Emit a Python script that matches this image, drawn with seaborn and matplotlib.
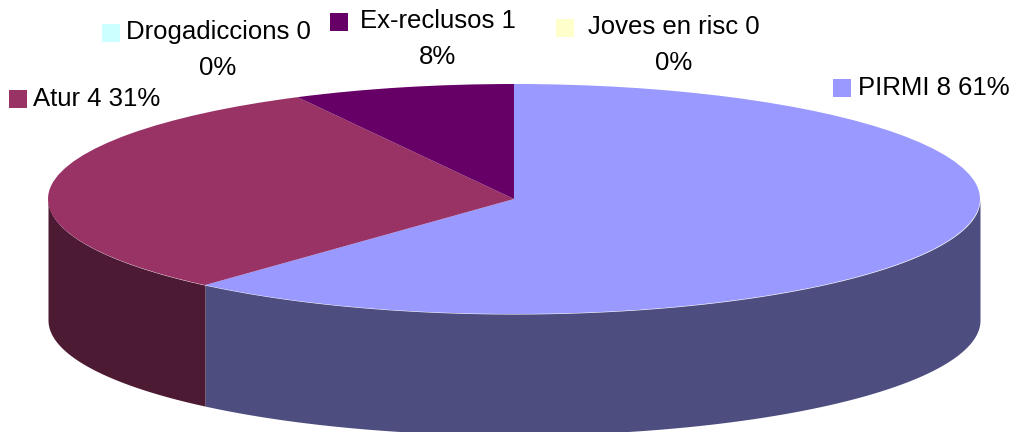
import matplotlib
import numpy as np
import seaborn as sns

matplotlib.use("Agg")
import matplotlib.pyplot as plt

categories = ["PIRMI", "Atur", "Ex-reclusos", "Joves en risc", "Drogadiccions"]
values = [8, 4, 1, 0, 0]
percents = [61, 31, 8, 0, 0]
top_colors = ["#9999FF", "#993366", "#660066", "#FFFFCC", "#CCFFFF"]

WIDTH, HEIGHT = 1019, 432
CX, CY, RX, RY = 514, 199, 466, 115
DEPTH = 121 / RY

# square and text anchor in pixels, wrapped labels break before the percent
label_layout = {
    "PIRMI": dict(square=(842, 88), xy=(858, 88), ha="left", wrap=False),
    "Atur": dict(square=(18, 99), xy=(33, 99), ha="left", wrap=False),
    "Ex-reclusos": dict(square=(339, 22), xy=(438, 39), ha="center", wrap=True),
    "Joves en risc": dict(square=(565, 28), xy=(674, 45), ha="center", wrap=True),
    "Drogadiccions": dict(square=(111, 33), xy=(218, 50), ha="center", wrap=True),
}


def draw_side(ax, start_deg, end_deg, color):
    # only the front half of the cylinder wall shows
    start_deg, end_deg = max(start_deg, 180), min(end_deg, 360)
    if end_deg <= start_deg:
        return
    theta = np.radians(np.linspace(start_deg, end_deg, 200))
    x = np.cos(theta)
    y = np.sin(theta)
    ax.fill_between(x, y, y - DEPTH, color=color, linewidth=0)


sns.set_theme(style="white")
plt.rcParams["font.family"] = ["Liberation Sans", "DejaVu Sans"]

fig = plt.figure(figsize=(WIDTH / 100, HEIGHT / 100), dpi=100)
ax = fig.add_axes([0, 0, 1, 1])

palette = sns.color_palette(top_colors)
dark = [tuple(c * 0.5 for c in col) for col in palette]

# slices run clockwise from the top of the ellipse
edges = 90 - 360 * np.cumsum([0] + values) / sum(values) + 360
for i in range(len(values)):
    draw_side(ax, edges[i + 1], edges[i], dark[i])

ax.pie(values, colors=palette, startangle=90, counterclock=False, radius=1,
       wedgeprops=dict(linewidth=0))
ax.set_aspect("auto")
ax.set_xlim(-CX / RX, (WIDTH - CX) / RX)
ax.set_ylim((CY - HEIGHT) / RY, CY / RY)
ax.axis("off")

overlay = fig.add_axes([0, 0, 1, 1])
overlay.set_xlim(0, WIDTH)
overlay.set_ylim(HEIGHT, 0)
overlay.axis("off")
for name, value, pct, color in zip(categories, values, percents, palette):
    layout = label_layout[name]
    sep = "\n" if layout["wrap"] else " "
    overlay.scatter(*layout["square"], marker="s", s=187, color=color, linewidths=0)
    overlay.text(*layout["xy"], f"{name} {value}{sep}{pct}%", ha=layout["ha"], va="center",
                 fontsize=18.5, color="black", linespacing=1.6,
                 multialignment="center")

fig.savefig("out.png", dpi=100)
